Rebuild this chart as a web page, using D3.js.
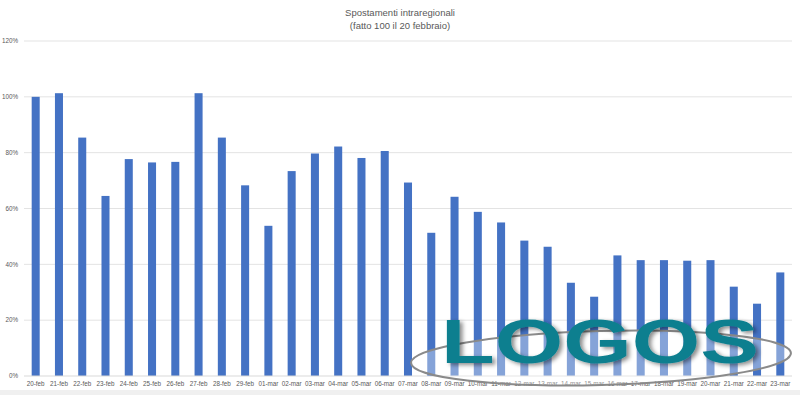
<!DOCTYPE html>
<html>
  <head>
    <script src="https://d3js.org/d3.v7.min.js"></script>
    <style>
      body { margin: 0; background: #fff; }
      text { font-family: "Liberation Sans", Arial, sans-serif; fill: #595959; }
    </style>
  </head>
  <body>
    <div id="chart"></div>
    <script>
      const days = [
        "20-feb", "21-feb", "22-feb", "23-feb", "24-feb", "25-feb", "26-feb", "27-feb",
        "28-feb", "29-feb", "01-mar", "02-mar", "03-mar", "04-mar", "05-mar", "06-mar",
        "07-mar", "08-mar", "09-mar", "10-mar", "11-mar", "12-mar", "13-mar", "14-mar",
        "15-mar", "16-mar", "17-mar", "18-mar", "19-mar", "20-mar", "21-mar", "22-mar", "23-mar"
      ];
      const values = [
        100, 101.3, 85.4, 64.5, 77.7, 76.5, 76.7, 101.3,
        85.4, 68.3, 53.8, 73.4, 79.7, 82.2, 78.1, 80.6,
        69.3, 51.3, 64.2, 58.8, 55.0, 48.5, 46.3, 33.4,
        28.4, 43.2, 41.5, 41.5, 41.3, 41.5, 32.0, 25.9, 37.1
      ];
      const yTicks = [0, 20, 40, 60, 80, 100, 120];
      const titleLines = ["Spostamenti intraregionali", "(fatto 100 il 20 febbraio)"];

      const W = 800, H = 395;
      const plotLeft = 24, plotRight = 792, plotTop = 41, plotBottom = 376;

      const svg = d3.select("#chart").append("svg")
        .attr("width", W).attr("height", H);

      svg.append("rect").attr("width", W).attr("height", H).attr("fill", "#fff");

      const x = d3.scaleBand().domain(days).range([plotLeft, plotRight]).paddingInner(0.655).paddingOuter(0.33);
      const y = d3.scaleLinear().domain([0, 120]).range([plotBottom, plotTop]);

      // gridlines
      svg.append("g")
        .selectAll("line")
        .data(yTicks.filter(d => d > 0))
        .join("line")
        .attr("x1", plotLeft).attr("x2", plotRight)
        .attr("y1", d => y(d)).attr("y2", d => y(d))
        .attr("stroke", "#e3e3e3").attr("stroke-width", 1);

      // y labels
      svg.append("g")
        .selectAll("text")
        .data(yTicks)
        .join("text")
        .attr("x", 18).attr("y", d => y(d) + 2.3)
        .attr("text-anchor", "end")
        .style("font-size", "6.3px")
        .text(d => d + "%");

      // bars
      svg.append("g")
        .selectAll("rect")
        .data(values)
        .join("rect")
        .attr("x", (d, i) => x(days[i]))
        .attr("y", d => y(d))
        .attr("width", x.bandwidth())
        .attr("height", d => y(0) - y(d))
        .attr("fill", "#4472c4");

      // baseline
      svg.append("line")
        .attr("x1", plotLeft).attr("x2", plotRight)
        .attr("y1", y(0)).attr("y2", y(0))
        .attr("stroke", "#d9d9d9");

      // x labels
      svg.append("g")
        .selectAll("text")
        .data(days)
        .join("text")
        .attr("x", d => x(d) + x.bandwidth() / 2)
        .attr("y", 386)
        .attr("text-anchor", "middle")
        .style("font-size", "6.3px")
        .text(d => d);

      // title
      svg.append("g")
        .selectAll("text")
        .data(titleLines)
        .join("text")
        .attr("x", 400).attr("y", (d, i) => 16 + i * 13)
        .attr("text-anchor", "middle")
        .style("font-size", "9.5px")
        .text(d => d);

      // bottom strip of the screenshot
      svg.append("rect").attr("x", 0).attr("y", 390).attr("width", W).attr("height", 5).attr("fill", "#f0f0f0");

      // watermark
      const defs = svg.append("defs");
      const f = defs.append("filter").attr("id", "sh").attr("x", "-10%").attr("y", "-20%").attr("width", "130%").attr("height", "150%");
      f.append("feDropShadow").attr("dx", 3).attr("dy", 2).attr("stdDeviation", 2)
        .attr("flood-color", "#000").attr("flood-opacity", 0.45);

      const wm = svg.append("g");
      wm.append("ellipse")
        .attr("cx", 601).attr("cy", 358).attr("rx", 190).attr("ry", 27)
        .attr("transform", "rotate(-1.5 601 358)")
        .attr("fill", "#fff").attr("fill-opacity", 0.35)
        .attr("stroke", "#8a8a8a").attr("stroke-width", 2);
      wm.append("text")
        .attr("x", 441).attr("y", 363)
        .attr("textLength", 318).attr("lengthAdjust", "spacingAndGlyphs")
        .attr("filter", "url(#sh)")
        .style("font-family", "'Liberation Sans', Arial, sans-serif")
        .style("font-weight", "bold")
        .style("font-size", "63px")
        .style("fill", "#117f8f")
        .text("LOGOS");
    </script>
  </body>
</html>
